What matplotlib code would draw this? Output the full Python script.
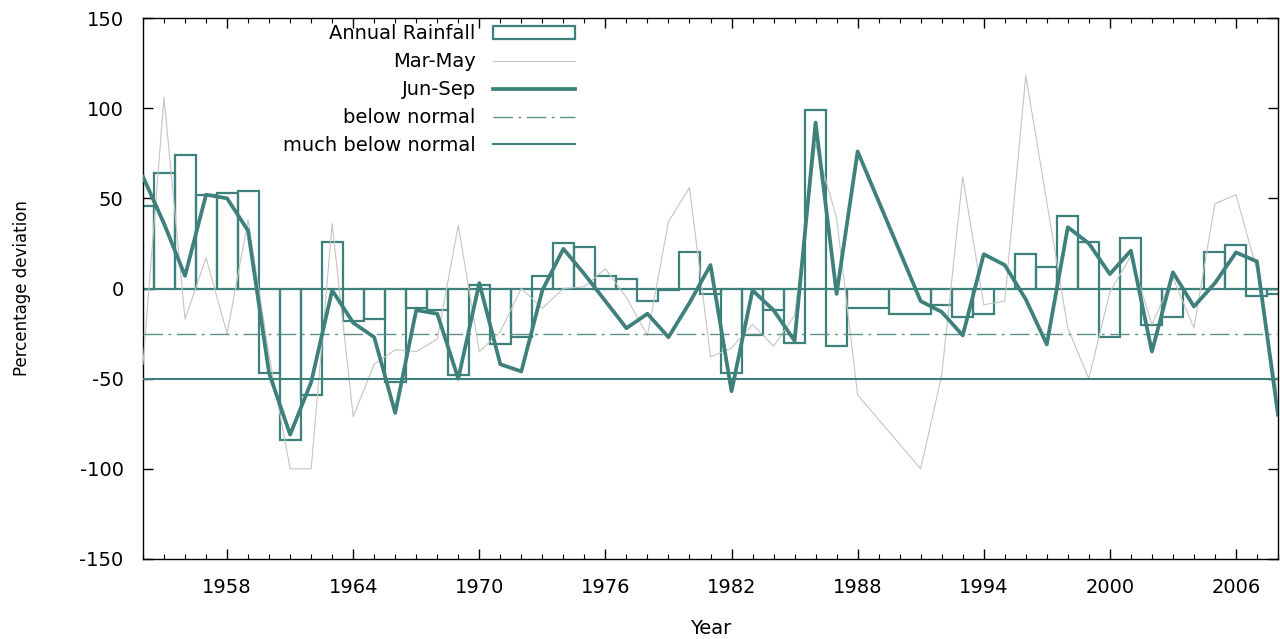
import numpy as np
import matplotlib.pyplot as plt
from matplotlib.patches import Patch
from matplotlib.lines import Line2D
from matplotlib.ticker import MultipleLocator

plt.rcParams.update({'font.size': 14, 'axes.unicode_minus': False})

# years with data (1989 and 1990 are missing)
years = [1954, 1955, 1956, 1957, 1958, 1959, 1960, 1961, 1962, 1963,
         1964, 1965, 1966, 1967, 1968, 1969, 1970, 1971, 1972, 1973,
         1974, 1975, 1976, 1977, 1978, 1979, 1980, 1981, 1982, 1983,
         1984, 1985, 1986, 1987, 1988, 1991, 1992, 1993, 1994, 1995,
         1996, 1997, 1998, 1999, 2000, 2001, 2002, 2003, 2004, 2005,
         2006, 2007, 2008]

annual = [46, 64, 74, 52, 53, 54, -47, -84, -59, 26,
          -18, -17, -52, -11, -12, -48, 2, -31, -27, 7,
          25, 23, 7, 5, -7, -1, 20, -3, -47, -26,
          -12, -30, 99, -32, -11, -14, -9, -16, -14, 0,
          19, 12, 40, 26, -27, 28, -20, -16, 0, 20,
          24, -4, -3]

mar_may = [-42, 106, -17, 17, -25, 38, -37, -100, -100, 36,
           -71, -42, -34, -35, -28, 35, -35, -24, 0, -11,
           0, 1, 11, -5, -26, 37, 56, -38, -33, -20,
           -32, -15, 80, 39, -59, -100, -48, 62, -9, -7,
           118, 48, -22, -50, -2, 18, -20, 6, -22, 47,
           52, 10, -60]

jun_sep = [62, 36, 7, 52, 50, 32, -47, -81, -52, -1,
           -19, -27, -69, -12, -14, -50, 3, -42, -46, -1,
           22, 8, -7, -22, -14, -27, -8, 13, -57, -1,
           -12, -29, 92, -3, 76, -7, -13, -26, 19, 13,
           -6, -31, 34, 25, 8, 21, -35, 9, -10, 3,
           20, 15, -70]

below_normal = -25
much_below_normal = -50

labels = ['Annual Rainfall', 'Mar-May', 'Jun-Sep', 'below normal', 'much below normal']

teal = '#3e807b'
grey = '#c4c4c4'
dashgrey = '#5f8f8b'

# box edges half way between neighbouring years (like gnuplot boxes)
yr = np.array(years, dtype=float)
mid = (yr[:-1] + yr[1:]) / 2
edges = np.concatenate([[yr[0] - (yr[1] - yr[0]) / 2], mid,
                        [yr[-1] + (yr[-1] - yr[-2]) / 2]])

fig = plt.figure(figsize=(12.8, 6.39), dpi=100)
ax = fig.add_axes([143 / 1280, 1 - 559 / 639, 1135 / 1280, 541 / 639])

ax.bar(edges[:-1], annual, width=np.diff(edges), align='edge', fill=False,
       edgecolor=teal, linewidth=1.6, zorder=2)
ax.plot(years, mar_may, color=grey, lw=0.8, zorder=3)
ax.plot(years, jun_sep, color=teal, lw=2.7, zorder=4)
ax.axhline(below_normal, color=dashgrey, lw=1.0, dashes=[14, 4, 2, 4], zorder=3)
ax.axhline(much_below_normal, color=teal, lw=1.5, zorder=3)

ax.set_xlim(1954, 2008)
ax.set_ylim(-150, 150)
ax.set_xticks(range(1958, 2007, 6))
ax.xaxis.set_minor_locator(MultipleLocator(1))
ax.set_yticks(range(-150, 151, 50))
ax.tick_params(which='both', direction='in', top=True, right=True)
ax.tick_params(which='major', length=7, width=1)
ax.tick_params(which='minor', length=3.5, width=0.8)
ax.tick_params(axis='y', pad=14)
ax.tick_params(axis='x', pad=14)
for s in ax.spines.values():
    s.set_linewidth(1)

ax.set_xlabel('Year', fontsize=14)
ax.xaxis.set_label_coords(0.5, -0.11)
ax.set_ylabel('Percentage deviation', fontsize=12)
ax.yaxis.set_label_coords(-0.099, 0.5)

handles = [Patch(facecolor='white', edgecolor=teal, lw=1.6),
           Line2D([], [], color=grey, lw=0.8),
           Line2D([], [], color=teal, lw=2.7),
           Line2D([], [], color=dashgrey, lw=1.0, dashes=[14, 4, 2, 4]),
           Line2D([], [], color=teal, lw=1.5)]
ax.legend(handles, labels, loc='upper right', bbox_to_anchor=(0.3806, 0.988),
          markerfirst=False, frameon=False, handlelength=4.2, handletextpad=0.9,
          labelspacing=0.46, borderaxespad=0, borderpad=0, fontsize=14)

fig.savefig('out.png', dpi=100)
